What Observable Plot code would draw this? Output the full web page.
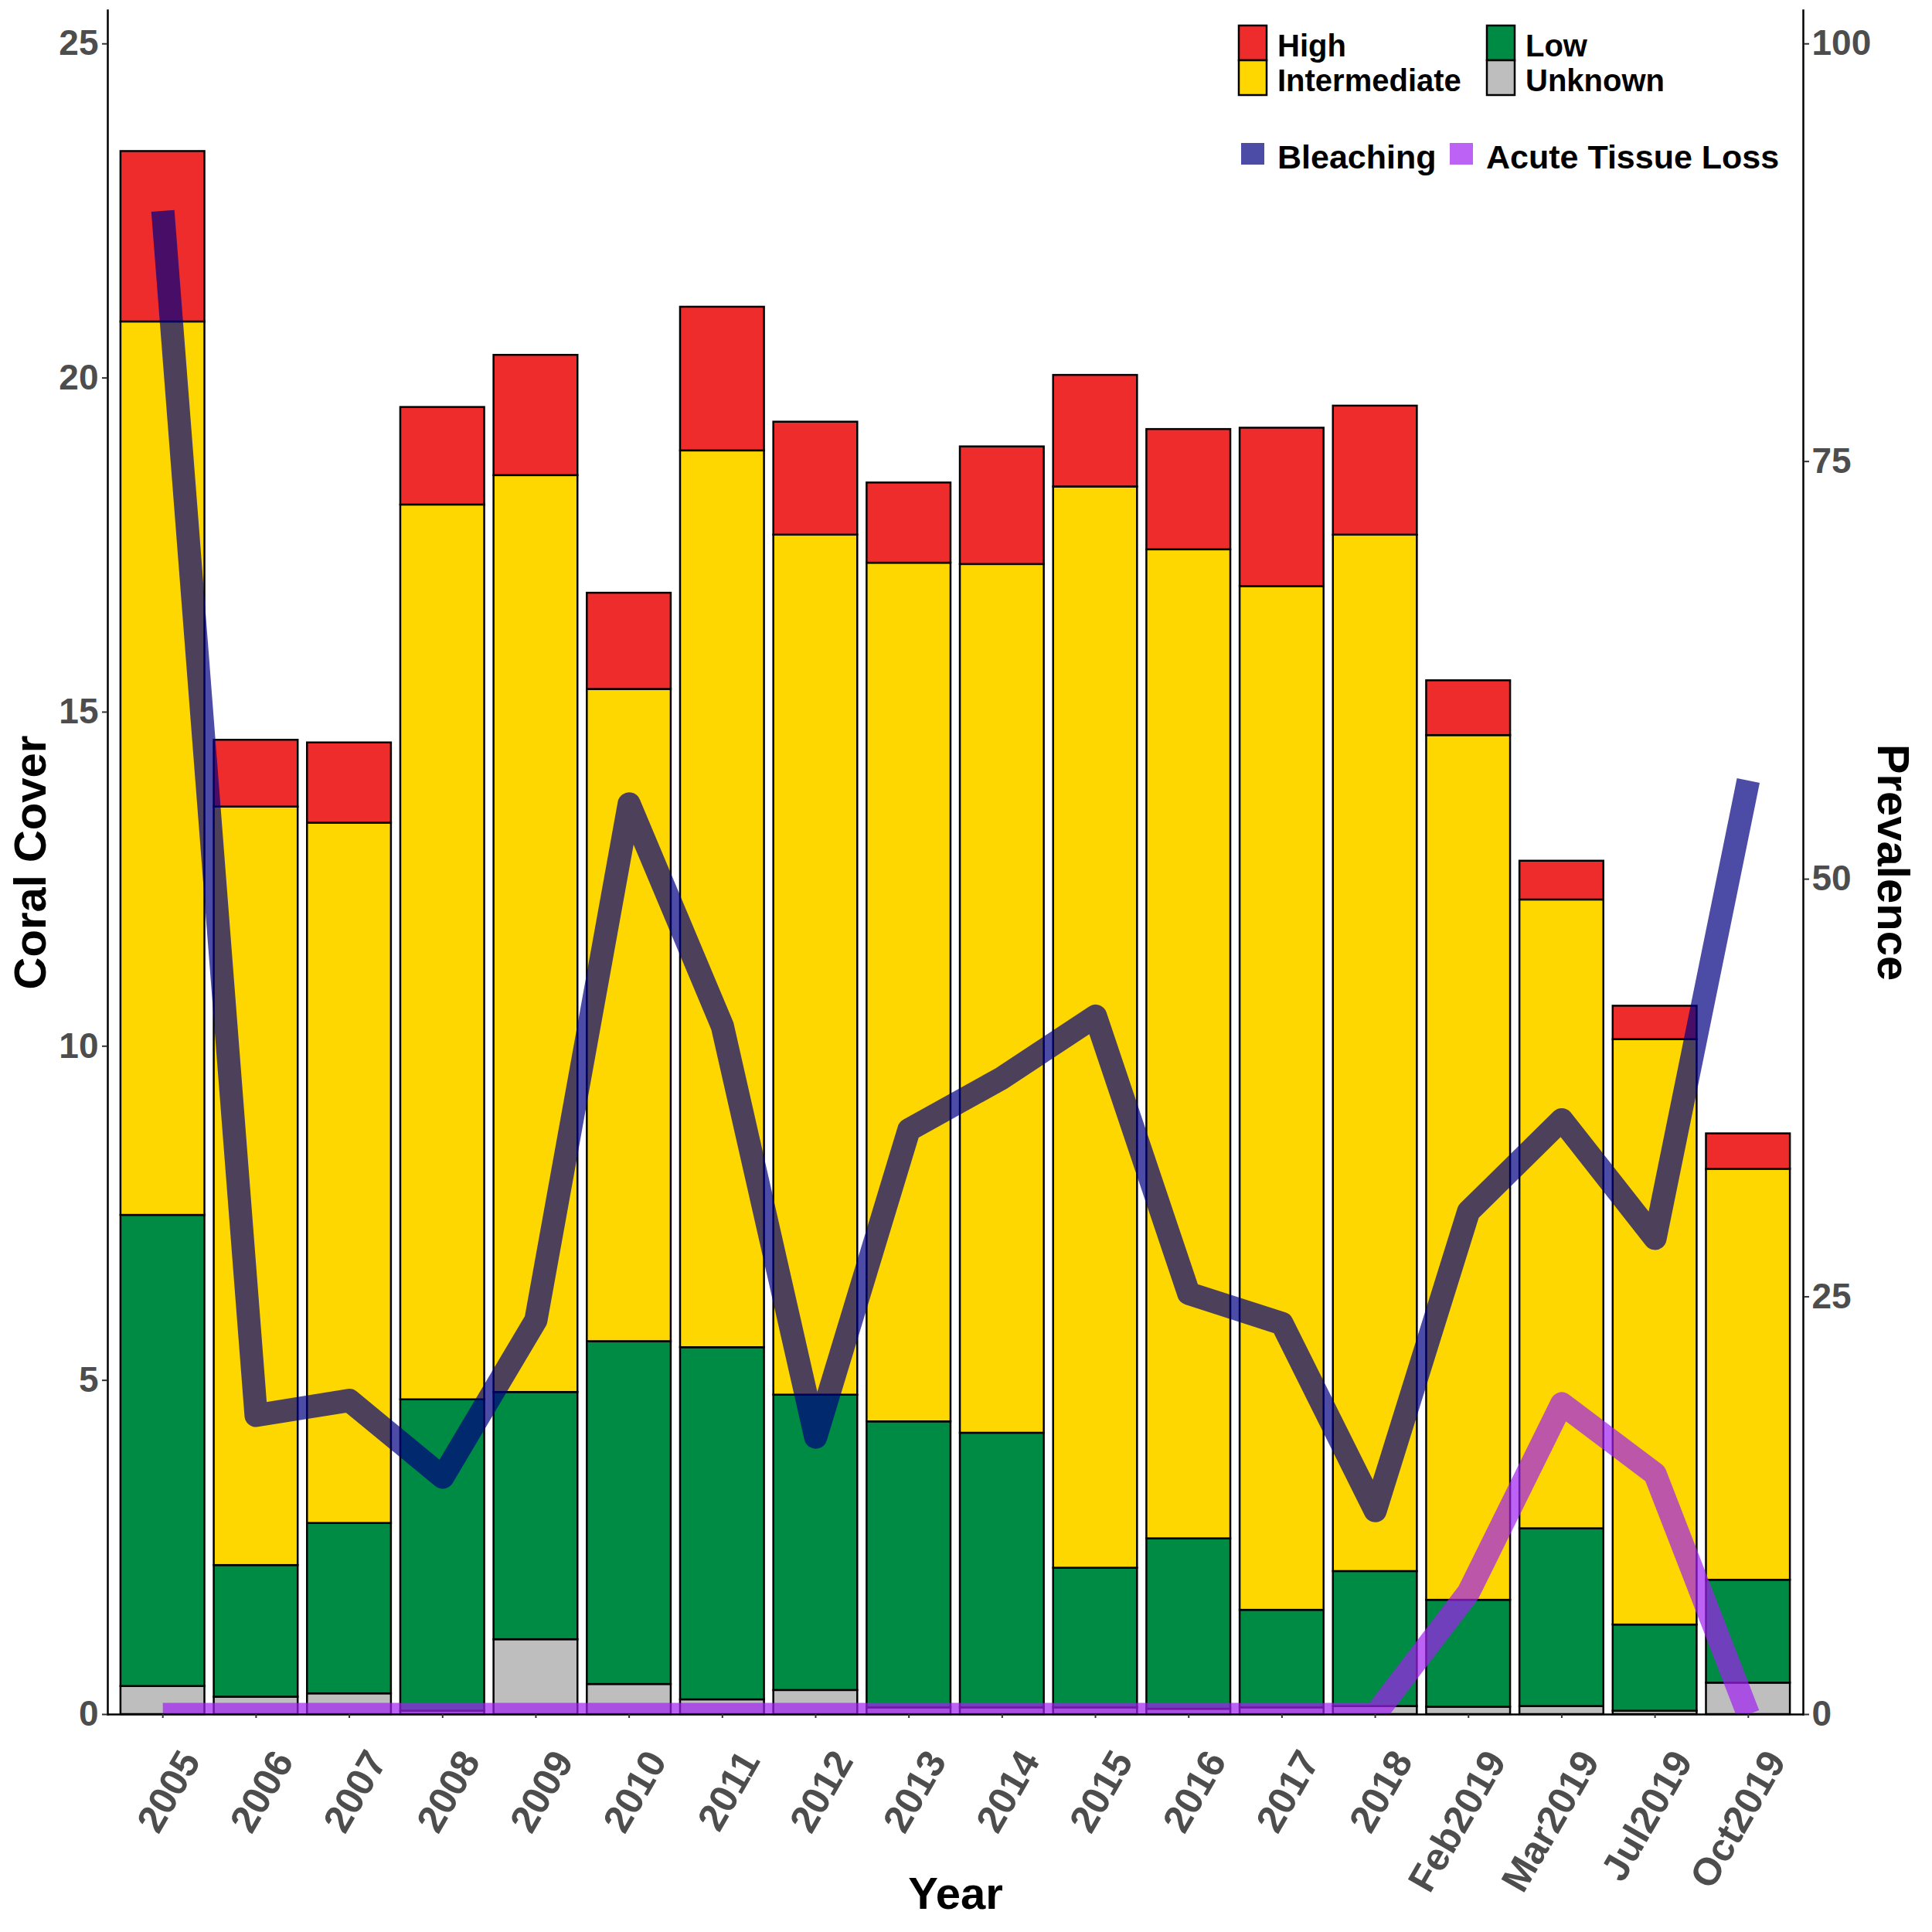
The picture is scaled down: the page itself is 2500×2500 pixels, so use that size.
<!DOCTYPE html>
<html>
<head>
<meta charset="utf-8">
<script src="https://cdn.jsdelivr.net/npm/d3@7"></script>
<script src="https://cdn.jsdelivr.net/npm/@observablehq/plot@0.6"></script>
<style>
  body { margin: 0; background: white; }
  #wrap { position: relative; width: 2500px; height: 2500px; font-family: "Liberation Sans", Arial, sans-serif; }
  #legend { position: absolute; left: 0; top: 0; }
</style>
</head>
<body>
<div id="wrap">
  <div id="chart"></div>
  <svg id="legend" width="2500" height="260"></svg>
</div>
<script>
// categories on the x axis
const years = ['2005', '2006', '2007', '2008', '2009', '2010', '2011', '2012', '2013',
  '2014', '2015', '2016', '2017', '2018', 'Feb2019', 'Mar2019', 'Jul2019', 'Oct2019']

// coral cover by risk level (stacked bar segments)
const high         = [2.55, 1.00, 1.20, 1.46, 1.80, 1.44, 2.15, 1.69, 1.20, 1.76, 1.67, 1.80, 2.37, 1.93, 0.82, 0.58, 0.50, 0.53]
const intermediate = [13.37, 11.35, 10.48, 13.39, 13.72, 9.76, 13.42, 12.87, 12.85, 13.00, 16.18, 14.80, 15.32, 15.51, 12.94, 9.41, 8.76, 6.15]
const low          = [7.05, 1.97, 2.55, 4.66, 3.70, 5.13, 5.27, 4.42, 4.28, 4.11, 2.09, 2.55, 1.46, 2.02, 1.60, 2.66, 1.29, 1.54]
const unknown      = [0.42, 0.26, 0.31, 0.05, 1.12, 0.45, 0.22, 0.36, 0.10, 0.10, 0.10, 0.08, 0.10, 0.12, 0.11, 0.12, 0.05, 0.47]

// prevalence (right axis, 0-100)
const bleaching       = [90, 17.9, 18.8, 14.2, 23.6, 54.5, 41.2, 16.6, 35.0, 38.1, 41.8, 25.2, 23.4, 12.2, 30.1, 35.6, 28.5, 55.9]
const acuteTissueLoss = [0, 0, 0, 0, 0, 0, 0, 0, 0, 0, 0, 0, 0, 0, 7.3, 18.6, 14.4, 0]

const levels = ['High', 'Intermediate', 'Low', 'Unknown']
const levelColors = ['#EE2C2C', '#FFD700', '#008B45', '#BEBEBE']
const stackOrder = ['Unknown', 'Low', 'Intermediate', 'High']

const coverTicks = [0, 5, 10, 15, 20, 25]
const prevalenceTicks = [0, 25, 50, 75, 100]
const prevScale = 4 // prevalence 100 == cover 25

const bleachColor = '#000080'
const atlColor = '#A020F0'

const series = {High: high, Intermediate: intermediate, Low: low, Unknown: unknown}
const barData = stackOrder.flatMap(level =>
  years.map((year, i) => ({year, level, value: series[level][i]})))
const bleachData = years.map((year, i) => ({year, prev: bleaching[i]}))
const atlData = years.map((year, i) => ({year, prev: acuteTissueLoss[i]}))

const tickGray = '#4d4d4d'

let chart = Plot.plot({
  width: 2500,
  height: 2500,
  marginLeft: 139,
  marginRight: 167,
  marginTop: 13,
  marginBottom: 282,
  style: {fontFamily: '"Liberation Sans", Arial, sans-serif', fontWeight: 'bold', background: 'white'},
  x: {domain: years, paddingInner: 0.1, paddingOuter: 0.14, round: false, axis: null},
  y: {domain: [0, 25.5], axis: null},
  color: {domain: levels, range: levelColors},
  marks: [
    Plot.barY(barData, {x: 'year', y: 'value', fill: 'level', order: stackOrder, stroke: 'black', strokeWidth: 2.5}),
    Plot.line(bleachData, {x: 'year', y: d => d.prev / prevScale, stroke: bleachColor, strokeOpacity: 0.7,
      strokeWidth: 30, strokeLinejoin: 'round', strokeLinecap: 'butt', clip: true}),
    Plot.line(atlData, {x: 'year', y: d => d.prev / prevScale, stroke: atlColor, strokeOpacity: 0.7,
      strokeWidth: 30, strokeLinejoin: 'round', strokeLinecap: 'butt', clip: true}),

    // axis lines
    Plot.frame({anchor: 'left', stroke: 'black', strokeWidth: 2.5}),
    Plot.frame({anchor: 'right', stroke: 'black', strokeWidth: 2.5}),
    Plot.frame({anchor: 'bottom', stroke: 'black', strokeWidth: 2.5}),

    // left axis
    Plot.axisY({anchor: 'left', ticks: coverTicks, tickSize: 7, tickPadding: 5, fontSize: 46,
      fontWeight: 'bold', fill: tickGray, stroke: '#333', strokeWidth: 2, label: null}),
    // right axis (prevalence)
    Plot.axisY({anchor: 'right', ticks: prevalenceTicks.map(v => v / prevScale), tickFormat: d => d * prevScale,
      tickSize: 7, tickPadding: 4, fontSize: 46, fontWeight: 'bold', fill: tickGray, stroke: '#333',
      strokeWidth: 2, label: null}),
    // x ticks
    Plot.axisX({anchor: 'bottom', tickSize: 5, tickFormat: () => '', stroke: '#333', strokeWidth: 2, label: null}),
    // x tick labels, rotated
    Plot.text(years, {x: d => d, frameAnchor: 'bottom', rotate: -60, textAnchor: 'end', lineAnchor: 'middle',
      dx: 36, dy: 52, fontSize: 50, fontWeight: 'bold', fill: tickGray}),

    // axis titles
    Plot.text(['Coral Cover'], {frameAnchor: 'left', rotate: -90, textAnchor: 'middle', lineAnchor: 'middle',
      dx: -99, fontSize: 58, fontWeight: 'bold', fill: 'black'}),
    Plot.text(['Prevalence'], {frameAnchor: 'right', rotate: 90, textAnchor: 'middle', lineAnchor: 'middle',
      dx: 115, fontSize: 58, fontWeight: 'bold', fill: 'black'}),
    Plot.text(['Year'], {frameAnchor: 'bottom', dy: 251, fontSize: 58, fontWeight: 'bold', fill: 'black'}),
  ],
})

d3.select('#chart').append(() => chart)

/* legend drawn over the empty top-right corner of the panel */
const legend = d3.select('#legend')
const coverKeys = levels.map((label, i) => ({label, color: levelColors[i], col: Math.floor(i / 2), row: i % 2}))
const colX = [1603, 1924]
const rowY = [33, 78]
coverKeys.forEach(k => {
  legend.append('rect')
    .attr('x', colX[k.col]).attr('y', rowY[k.row]).attr('width', 36).attr('height', 45)
    .attr('fill', k.color).attr('stroke', 'black').attr('stroke-width', 2.5)
  legend.append('text')
    .attr('x', colX[k.col] + 50).attr('y', rowY[k.row] + 40)
    .attr('font-size', 40).attr('font-weight', 'bold').attr('fill', 'black')
    .text(k.label)
})
const lineKeys = [{label: 'Bleaching', color: bleachColor, x: 1606}, {label: 'Acute Tissue Loss', color: atlColor, x: 1876}]
lineKeys.forEach(k => {
  legend.append('rect')
    .attr('x', k.x).attr('y', 185).attr('width', 30).attr('height', 28)
    .attr('fill', k.color).attr('fill-opacity', 0.7)
  legend.append('text')
    .attr('x', k.x + 47).attr('y', 218)
    .attr('font-size', 43).attr('font-weight', 'bold').attr('fill', 'black')
    .text(k.label)
})
</script>
</body>
</html>
